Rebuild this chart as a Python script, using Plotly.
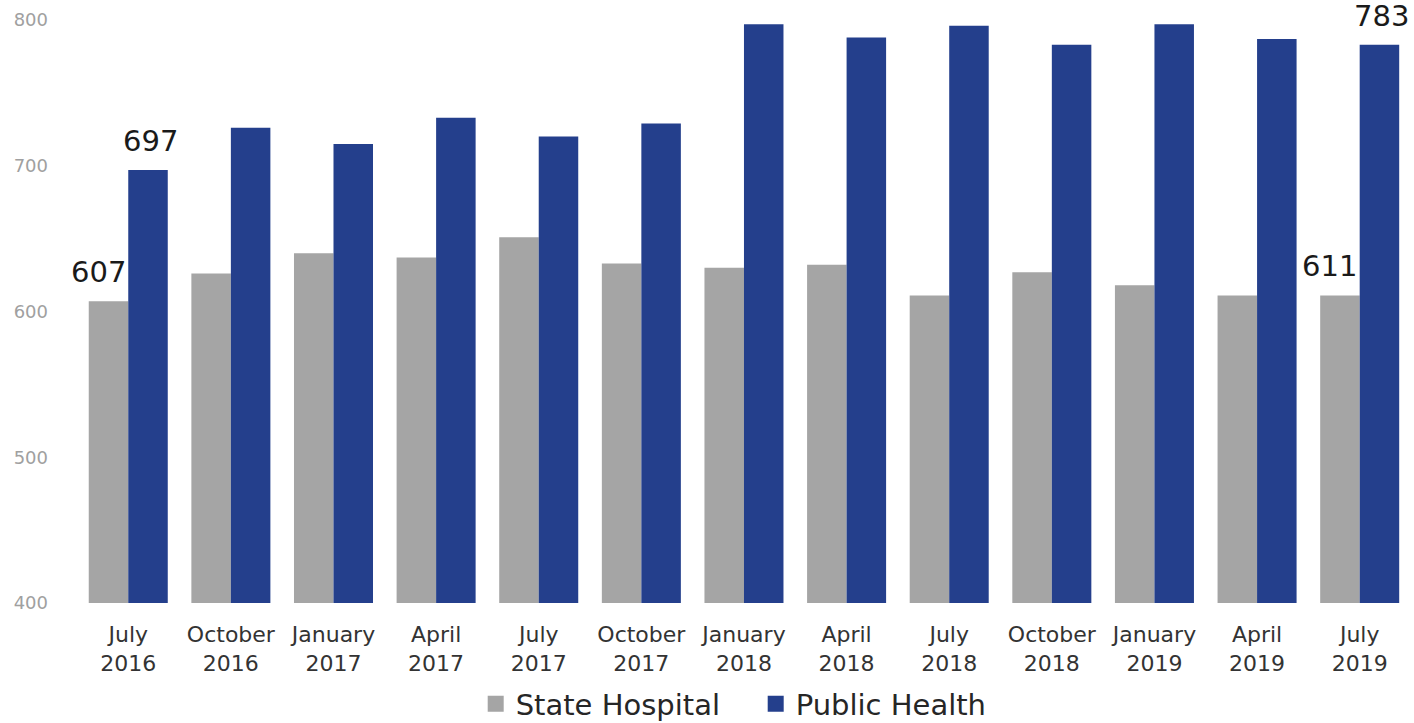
import plotly.graph_objects as go

# Quarterly counts by setting
months = ["July", "October", "January", "April", "July", "October", "January",
          "April", "July", "October", "January", "April", "July"]
years = ["2016", "2016", "2017", "2017", "2017", "2017", "2018",
         "2018", "2018", "2018", "2019", "2019", "2019"]
state_hospital = [607, 626, 640, 637, 651, 633, 630, 632, 611, 627, 618, 611, 611]
public_health = [697, 726, 715, 733, 720, 729, 797, 788, 796, 783, 797, 787, 783]

categories = [f"{m}<br>{y}" for m, y in zip(months, years)]

GRAY = "#a5a5a5"
BLUE = "#243f8c"
FONT = "DejaVu Sans"
BARGAP = 0.23

fig = go.Figure()
fig.add_trace(go.Bar(x=categories, y=state_hospital, name="State Hospital",
                     marker=dict(color=GRAY, line=dict(width=0)), showlegend=False))
fig.add_trace(go.Bar(x=categories, y=public_health, name="Public Health",
                     marker=dict(color=BLUE, line=dict(width=0)), showlegend=False))

# Legend entries with larger square swatches
for name, color in (("State Hospital", GRAY), ("Public Health", BLUE)):
    fig.add_trace(go.Scatter(x=[None], y=[None], mode="markers", name=name,
                             marker=dict(symbol="square", size=16, color=color)))

# Value labels on the first and last quarter
half = (1 - BARGAP) / 4
for idx in (0, len(categories) - 1):
    for series, shift, dx in ((state_hospital, -half, -10), (public_health, half, 2)):
        fig.add_annotation(x=idx + shift, y=series[idx], text=str(series[idx]),
                           showarrow=False, yanchor="bottom", yshift=10, xshift=dx,
                           xref="x", yref="y",
                           font=dict(family=FONT, size=29, color="#1a1a1a"))

fig.update_layout(
    width=1414, height=723,
    margin=dict(l=69, r=3, t=20, b=120, autoexpand=False),
    paper_bgcolor="white", plot_bgcolor="white",
    barmode="group", bargap=BARGAP, bargroupgap=0,
    font=dict(family=FONT),
    legend=dict(orientation="h", x=0.5117, xanchor="center", y=-0.173, yanchor="middle",
                font=dict(family=FONT, size=29, color="#262626"),
                entrywidth=235, bgcolor="rgba(0,0,0,0)"),
)
fig.update_xaxes(type="category", automargin=False, showgrid=False, showline=False,
                 zeroline=False, ticks="", ticklabelstandoff=16,
                 tickfont=dict(family=FONT, size=22, color="#333333"))
fig.update_yaxes(range=[400, 800], dtick=100, automargin=False, showgrid=False,
                 showline=False, zeroline=False, ticks="", ticklabelstandoff=20,
                 tickfont=dict(family=FONT, size=18, color="#a0a0a0"))

fig.write_html("out.html")
